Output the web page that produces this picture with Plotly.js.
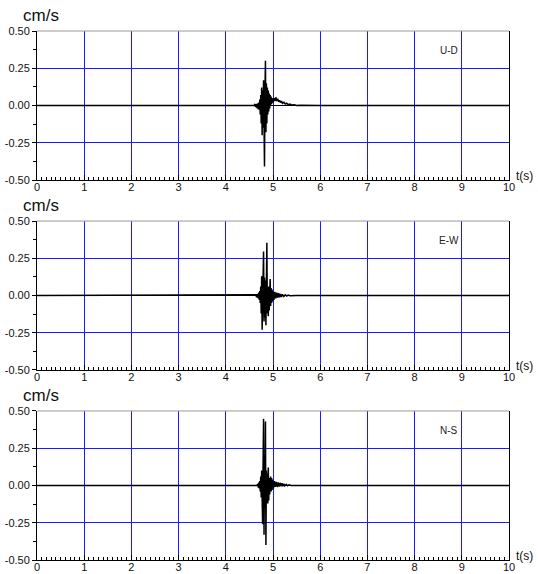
<!DOCTYPE html>
<html>
<head>
<meta charset="utf-8">
<script src="https://cdn.plot.ly/plotly-3.0.1.min.js"></script>
<style>html,body{margin:0;padding:0;background:#fff;}#chart{width:538px;height:574px;}</style>
</head>
<body>
<div id="chart"></div>
<script>
// ---- data ----
var components = ["U-D", "E-W", "N-S"];
var yUnit = "cm/s";
var xUnit = "t(s)";
var yTickVals = [-0.5, -0.25, 0, 0.25, 0.5];
var yTickText = ["-0.50", "-0.25", "0.00", "0.25", "0.50"];

var tUD = [0, 4.60, 4.62, 4.63, 4.64, 4.65, 4.66, 4.67, 4.68, 4.69, 4.70, 4.71, 4.72, 4.73, 4.74, 4.75, 4.76, 4.77, 4.78, 4.79, 4.80, 4.81, 4.82, 4.83, 4.84, 4.85, 4.86, 4.87, 4.88, 4.89, 4.90, 4.91, 4.92, 4.93, 4.94, 4.95, 4.96, 4.97, 4.98, 5.00, 5.02, 5.04, 5.06, 5.08, 5.10, 5.12, 5.14, 5.16, 5.18, 5.20, 5.23, 5.26, 5.29, 5.32, 5.36, 5.40, 5.45, 5.50, 5.57, 6.0, 10];
var vUD = [0, 0, 0.01, -0.01, 0.01, -0.015, 0.012, -0.02, 0.015, -0.025, 0.02, -0.03, 0.04, -0.06, 0.07, -0.12, 0.12, -0.20, 0.10, -0.15, 0.17, -0.10, -0.41, 0.10, 0.30, -0.18, 0.15, -0.12, 0.12, -0.06, 0.10, -0.04, 0.08, -0.02, 0.07, 0.0, 0.06, 0.01, 0.05, 0.02, 0.05, 0.03, 0.055, 0.03, 0.045, 0.025, 0.035, 0.02, 0.03, 0.015, 0.022, 0.01, 0.015, 0.006, 0.01, 0.003, 0.005, 0.0, 0.002, 0, 0];

var tEW = [0, 4.62, 4.64, 4.65, 4.66, 4.67, 4.68, 4.69, 4.70, 4.71, 4.72, 4.73, 4.74, 4.75, 4.76, 4.77, 4.78, 4.79, 4.80, 4.81, 4.82, 4.83, 4.84, 4.85, 4.86, 4.87, 4.88, 4.89, 4.90, 4.91, 4.92, 4.93, 4.94, 4.95, 4.96, 4.97, 4.98, 4.99, 5.00, 5.02, 5.04, 5.06, 5.08, 5.10, 5.12, 5.14, 5.16, 5.18, 5.20, 5.23, 5.26, 5.29, 5.32, 5.36, 5.40, 5.50, 10];
var vEW = [0, 0, 0.005, -0.01, 0.01, -0.015, 0.012, -0.02, 0.02, -0.03, 0.03, -0.05, 0.06, -0.12, 0.13, -0.23, 0.08, -0.10, 0.295, -0.175, 0.12, -0.15, 0.10, -0.20, 0.18, 0.354, -0.12, 0.05, -0.14, 0.06, -0.10, 0.04, 0.11, -0.07, 0.05, -0.05, 0.04, -0.04, 0.03, -0.03, 0.025, -0.02, 0.02, -0.015, 0.015, -0.012, 0.01, -0.01, 0.008, -0.006, 0.005, -0.004, 0.003, -0.002, 0, 0, 0];

var tNS = [0, 4.66, 4.68, 4.69, 4.70, 4.71, 4.72, 4.73, 4.74, 4.75, 4.76, 4.77, 4.78, 4.79, 4.80, 4.81, 4.82, 4.83, 4.84, 4.85, 4.86, 4.87, 4.88, 4.89, 4.90, 4.91, 4.92, 4.93, 4.94, 4.95, 4.96, 4.97, 4.98, 4.99, 5.01, 5.03, 5.05, 5.07, 5.09, 5.11, 5.13, 5.15, 5.17, 5.19, 5.21, 5.23, 5.25, 5.28, 5.31, 5.34, 5.38, 10];
var vNS = [0, 0, 0.01, -0.015, 0.02, -0.02, 0.03, -0.04, 0.06, -0.08, 0.10, -0.11, -0.26, 0.15, 0.447, -0.33, 0.20, -0.15, 0.43, -0.40, 0.10, -0.12, 0.08, -0.12, 0.12, -0.10, 0.05, -0.06, 0.03, 0.06, -0.04, 0.05, -0.03, 0.04, -0.02, 0.03, -0.01, 0.025, -0.01, 0.02, -0.008, 0.018, -0.006, 0.015, -0.005, 0.012, -0.003, 0.008, -0.002, 0.005, 0, 0];

var series = [[tUD, vUD], [tEW, vEW], [tNS, vNS]];

// ---- layout ----
var FONT = "Liberation Sans, Arial, sans-serif";
var domains = [[0.7183, 1], [0.3592, 0.6408], [0, 0.2817]];
var data = [];
var layout = {
  width: 538, height: 574,
  margin: {l: 37, r: 29, t: 31, b: 14},
  paper_bgcolor: "#ffffff", plot_bgcolor: "#ffffff",
  showlegend: false,
  font: {family: FONT, size: 11, color: "#111"},
  annotations: [], shapes: []
};

for (var i = 0; i < 3; i++) {
  var sx = i === 0 ? "" : String(i + 1);
  data.push({
    x: series[i][0], y: series[i][1], type: "scatter", mode: "lines",
    xaxis: "x" + sx, yaxis: "y" + sx,
    line: {color: "#000000", width: 1.5}, hoverinfo: "skip"
  });
  layout["xaxis" + sx] = {
    domain: [0, 1], anchor: "y" + sx, range: [0, 10],
    dtick: 1, tick0: 0, showgrid: true, gridcolor: "#1a1aff", gridwidth: 1,
    zeroline: false, showline: true, linecolor: "#000", linewidth: 1,
    ticks: "inside", ticklen: 5, tickcolor: "#000",
    ticklabelstandoff: -3,
    minor: {dtick: 0.1, ticks: "inside", ticklen: 3, tickcolor: "#000", showgrid: false},
    tickfont: {family: FONT, size: 11, color: "#111"},
    fixedrange: true
  };
  layout["yaxis" + sx] = {
    domain: domains[i], anchor: "x" + sx, range: [-0.5, 0.5],
    tickvals: yTickVals, ticktext: yTickText,
    showgrid: true, gridcolor: "#1a1aff", gridwidth: 1,
    zeroline: true, zerolinecolor: "#000", zerolinewidth: 1,
    showline: true, linecolor: "#000", linewidth: 1, mirror: true,
    ticks: "outside", ticklen: 4, tickcolor: "#000",
    minor: {dtick: 0.125, tick0: 0, ticks: "outside", ticklen: 3, tickcolor: "#000", showgrid: false},
    tickfont: {family: FONT, size: 11, color: "#111"},
    fixedrange: true
  };
  layout.shapes.push({
    type: "line", xref: "x" + sx + " domain", yref: "y" + sx + " domain",
    x0: 0, x1: 1, y0: 1, y1: 1, line: {color: "#999", width: 1}
  });
  layout.annotations.push({
    text: yUnit, xref: "x" + sx + " domain", yref: "y" + sx + " domain",
    x: 0.0085, y: 1.107, xanchor: "center", yanchor: "middle",
    showarrow: false, font: {family: FONT, size: 17, color: "#111"}
  });
  layout.annotations.push({
    text: xUnit, xref: "x" + sx + " domain", yref: "y" + sx + " domain",
    x: 1.032, y: 0.03, xanchor: "center", yanchor: "middle",
    showarrow: false, font: {family: FONT, size: 12, color: "#111"}
  });
  layout.annotations.push({
    text: components[i], xref: "x" + sx + " domain", yref: "y" + sx + " domain",
    x: 0.873, y: 0.872, xanchor: "center", yanchor: "middle",
    showarrow: false, font: {family: FONT, size: 10, color: "#222"}
  });
}

Plotly.newPlot("chart", data, layout, {displayModeBar: false, staticPlot: true});
</script>
</body>
</html>
